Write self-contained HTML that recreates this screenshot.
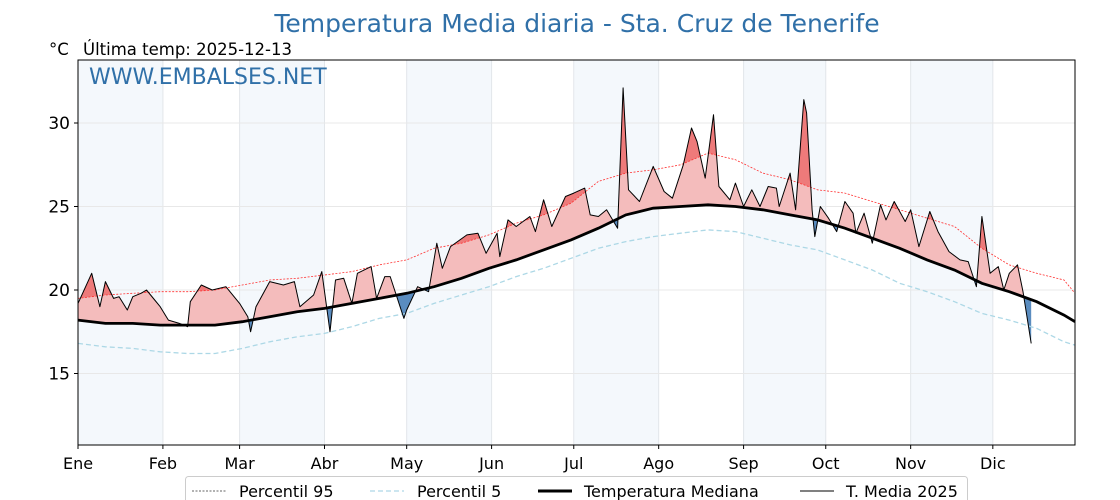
<!DOCTYPE html>
<html><head><meta charset="utf-8"><style>
body{margin:0;background:#fff;}
svg{display:block;font-family:"DejaVu Sans","Liberation Sans",sans-serif;}
</style></head><body>
<svg id="chart" width="1120" height="500" viewBox="0 0 1120 500">
<text x="577" y="32" text-anchor="middle" font-size="25" fill="#3070a8">Temperatura Media diaria - Sta. Cruz de Tenerife</text>
<text x="49" y="55" font-size="16.5" fill="#000">°C</text>
<text x="83" y="55" font-size="16.5" fill="#000">Última temp: 2025-12-13</text>
<g id="bands"></g>
<g id="grid"></g>
<g id="fills"></g>
<g id="lines"></g>
<text x="89" y="84" font-size="22" fill="#3070a8">WWW.EMBALSES.NET</text>
<rect x="78" y="60" width="997" height="385" fill="none" stroke="#000" stroke-width="1"/>
<g id="axes"></g>
<g>
<rect x="185.5" y="476.5" width="782" height="30" rx="3" fill="#fff" stroke="#ccc"/>
<line x1="192" y1="491" x2="226" y2="491" stroke="#333" stroke-width="0.8" stroke-dasharray="2,1.5"/>
<text x="239" y="497" font-size="16">Percentil 95</text>
<line x1="370" y1="491" x2="404" y2="491" stroke="#add8e6" stroke-width="1.2" stroke-dasharray="5,3"/>
<text x="417" y="497" font-size="16">Percentil 5</text>
<line x1="538" y1="491" x2="572" y2="491" stroke="#000" stroke-width="3"/>
<text x="584" y="497" font-size="16">Temperatura Mediana</text>
<line x1="800" y1="491" x2="834" y2="491" stroke="#000" stroke-width="1"/>
<text x="846" y="497" font-size="16">T. Media 2025</text>
</g>
</svg>
<script>
const refDays=[0,10,20,30,40,50,60,70,80,90,100,110,120,130,140,150,160,170,180,190,200,210,220,230,240,250,260,270,280,290,300,310,320,330,340,350,360,364];
const medianVals=[18.2,18.0,18.0,17.9,17.9,17.9,18.1,18.4,18.7,18.9,19.2,19.5,19.8,20.2,20.7,21.3,21.8,22.4,23.0,23.7,24.5,24.9,25.0,25.1,25.0,24.8,24.5,24.2,23.7,23.1,22.5,21.8,21.2,20.4,19.9,19.3,18.5,18.1];
const p95Vals=[19.5,19.7,19.8,19.9,19.9,20.0,20.3,20.6,20.7,20.9,21.1,21.5,21.8,22.5,22.8,23.3,24.0,24.5,25.2,26.5,27.0,27.2,27.5,28.2,27.8,27.0,26.6,26.0,25.8,25.3,24.8,24.3,23.8,22.5,21.5,21.0,20.6,19.8];
const p5Vals=[16.8,16.6,16.5,16.3,16.2,16.2,16.5,16.9,17.2,17.4,17.8,18.3,18.6,19.2,19.7,20.2,20.8,21.3,21.9,22.5,22.9,23.2,23.4,23.6,23.5,23.1,22.7,22.4,21.8,21.2,20.4,19.9,19.3,18.6,18.2,17.7,16.9,16.7];
const days2025=[0,5,8,10,13,15,18,20,23,25,28,30,33,37,40,41,45,49,54,59,62,63,65,70,75,79,81,86,89,92,94,97,100,102,107,109,112,114,119,120,124,128,131,133,136,142,146,149,153,154,157,160,165,167,170,173,178,181,185,187,190,193,197,199,201,205,210,214,217,221,224,226,229,232,234,238,240,243,246,249,252,255,256,260,262,265,266,268,269,271,274,277,280,283,284,287,290,293,295,298,302,304,307,311,314,318,322,325,328,330,333,336,338,340,343,345,348];
const temp2025=[19.2,21.0,19.0,20.5,19.5,19.6,18.8,19.6,19.8,20.0,19.4,19.0,18.2,18.0,17.8,19.3,20.3,20.0,20.2,19.2,18.4,17.5,19.0,20.5,20.3,20.5,19.0,19.7,21.1,17.5,20.6,20.7,19.2,21.0,21.4,19.5,20.8,20.8,18.3,18.8,20.2,19.9,22.8,21.3,22.6,23.3,23.4,22.2,23.4,22.0,24.2,23.8,24.4,23.5,25.4,23.8,25.6,25.8,26.1,24.5,24.4,24.8,23.7,32.1,26.0,25.3,27.4,25.9,25.5,27.5,29.7,28.9,26.7,30.5,26.2,25.4,26.4,25.0,26.0,25.0,26.2,26.1,25.0,27.0,24.8,31.4,30.6,24.8,23.2,25.0,24.3,23.5,25.3,24.6,23.4,24.6,22.8,25.1,24.2,25.3,24.1,24.8,22.6,24.7,23.5,22.3,21.8,21.7,20.2,24.4,21.0,21.4,20.0,21.0,21.5,19.9,16.8];
const yTicks=[15,20,25,30];
const monthLabels=['Ene','Feb','Mar','Abr','May','Jun','Jul','Ago','Sep','Oct','Nov','Dic'];
const monthStarts=[0,31,59,90,120,151,181,212,243,273,304,334];

const X0=78,X1=1075,Y0=60,Y1=445;
const x=d=>X0+d*(X1-X0)/364;
const y=t=>290-(t-20)*16.7;
const NS='http://www.w3.org/2000/svg';
function mk(tag,attrs,parent){const e=document.createElementNS(NS,tag);for(const k in attrs)e.setAttribute(k,attrs[k]);parent.appendChild(e);return e;}
const svg=document.getElementById('chart');
const bands=document.getElementById('bands'),grid=document.getElementById('grid'),fills=document.getElementById('fills'),lines=document.getElementById('lines'),axes=document.getElementById('axes');

monthStarts.forEach((m,i)=>{
  const end=i<11?monthStarts[i+1]:364;
  if(i%2===0){const r=mk('rect',{x:x(m),y:Y0,width:x(end)-x(m),height:Y1-Y0,fill:'#f4f8fc'},bands);
    
    }
  const g=mk('line',{x1:x(m),x2:x(m),y1:Y0,y2:Y1,stroke:'#e2e6ea','stroke-width':1},grid);
  
  
  const t=mk('text',{x:x(m),y:469,'text-anchor':'middle','font-size':16},axes);
  t.textContent=monthLabels[i];
  
  
  const tk=mk('line',{x1:x(m),x2:x(m),y1:Y1,y2:Y1+4,stroke:'#000'},axes);
  
  
});
yTicks.forEach(v=>{
  const g=mk('line',{x1:X0,x2:X1,y1:y(v),y2:y(v),stroke:'#e8e8e8','stroke-width':1},grid);
  
  
  const tk=mk('line',{x1:X0-4,x2:X0,y1:y(v),y2:y(v),stroke:'#000'},axes);
  
  
  const t=mk('text',{x:X0-8,y:y(v)+6,'text-anchor':'end','font-size':17},axes);
  t.textContent=v;
  
  
});

function pts(ds,vs){return ds.map((d,i)=>x(d).toFixed(1)+','+y(vs[i]).toFixed(1));}
const medPts=pts(refDays,medianVals), p95Pts=pts(refDays,p95Vals), p5Pts=pts(refDays,p5Vals), curPts=pts(days2025,temp2025);
const defs=mk('defs',{},svg);
function clip(id,poly){const c=mk('clipPath',{id:id},defs);mk('polygon',{points:poly},c);}
clip('aboveMed',[x(0)+','+Y0,...medPts,x(364)+','+Y0].join(' '));
clip('belowMed',[x(0)+','+Y1,...medPts,x(364)+','+Y1].join(' '));
clip('aboveP95',[x(0)+','+Y0,...p95Pts,x(364)+','+Y0].join(' '));
function medAt(d){let i=refDays.findIndex(v=>v>d);if(i<1)return medianVals[medianVals.length-1];const a=refDays[i-1],b=refDays[i];return medianVals[i-1]+(medianVals[i]-medianVals[i-1])*(d-a)/(b-a);}
const last=days2025[days2025.length-1];
const medRev=[];for(let i=refDays.length-1;i>=0;i--){if(refDays[i]<=last)medRev.push(medPts[i]);}
const endMed=x(last)+','+y(medAt(last));
const fillPoly=[...curPts,endMed,...medRev].join(' ');
const fa=mk('polygon',{points:fillPoly,fill:'#f4bcbc','clip-path':'url(#aboveMed)'},fills);


const fh=mk('polygon',{points:fillPoly,fill:'#ee7a7a','clip-path':'url(#aboveP95)'},fills);


const fb=mk('polygon',{points:fillPoly,fill:'#5a8cbf','clip-path':'url(#belowMed)'},fills);



const l95=mk('polyline',{points:p95Pts.join(' '),fill:'none',stroke:'#ff3030','stroke-width':0.8,'stroke-dasharray':'2,1.5'},lines);


const l5=mk('polyline',{points:p5Pts.join(' '),fill:'none',stroke:'#add8e6','stroke-width':1.3,'stroke-dasharray':'5,3'},lines);


const lm=mk('polyline',{points:medPts.join(' '),fill:'none',stroke:'#000','stroke-width':2.8},lines);


const lc=mk('polyline',{points:curPts.join(' '),fill:'none',stroke:'#000','stroke-width':1,'stroke-linejoin':'round'},lines);


</script>
</body></html>
